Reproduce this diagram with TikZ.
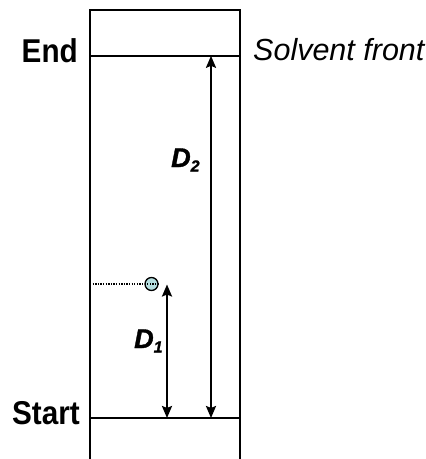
\documentclass[tikz,border=0pt]{standalone}
\usepackage{fontspec}
\setmainfont{Liberation Sans}
\newfontfamily\narrowsans{Liberation Sans}[FakeStretch=0.9]
\newfontface\heavyital{Liberation Sans Bold Italic}[FakeBold=1.3]
\usetikzlibrary{positioning,arrows.meta}
\definecolor{Ink}{HTML}{000000}
\definecolor{SpotFill}{HTML}{B5DEDF}
\newcommand{\Dsub}[1]{D\raisebox{-4.5pt}{\fontsize{16}{16}\selectfont #1}}

\begin{document}
\begin{tikzpicture}[
    x=1pt,
    y=-1pt,
    every node/.style={inner sep=0pt, text=Ink},
    plate/.style={draw=Ink, line width=1.4pt},
    dist/.style={{Stealth[length=12pt,width=10pt,inset=2pt]}-{Stealth[length=12pt,width=10pt,inset=2pt]}, draw=Ink, line width=2.2pt},
    sidelbl/.style={font=\narrowsans\fontsize{33}{38}\selectfont\bfseries},
    frontlbl/.style={font=\fontsize{30.5}{36}\selectfont\itshape},
    dlbl/.style={font=\heavyital\fontsize{27}{32}\selectfont},
    spot/.style={circle, draw=Ink, line width=1.3pt, fill=SpotFill, minimum size=13pt}
]
\useasboundingbox (0,0) rectangle (426,459);

% Plate outline (open at the bottom)
\draw[plate] (90,459) -- (90,10) -- (240,10) -- (240,459);

% Start and end lines
\coordinate (endL) at (90,55.8);
\coordinate (endR) at (240,55.8);
\coordinate (startL) at (90,418);
\coordinate (startR) at (240,418);
\draw[plate] (endL) -- (endR);
\draw[plate] (startL) -- (startR);

\node[sidelbl, anchor=base east] (lEnd) at (78,62) {End};
\node[sidelbl, anchor=base east] (lStart) at (80,424) {Start};
\node[frontlbl, anchor=base west] (lFront) at (253,60) {Solvent front};

% Spot
\node[spot] (spot) at (151.5,284) {};
\coordinate (spotL) at (90,284);
\draw[draw=Ink, line width=1.3pt, dash pattern=on 1.3pt off 1.3pt] (spotL) -- (spot.east);

% Distances
\coordinate (d1top) at (167,284.5);
\coordinate (d1bot) at (167,418);
\coordinate (d2top) at (211,55.8);
\coordinate (d2bot) at (211,418);
\draw[dist] (d1bot) -- (d1top);
\draw[dist] (d2bot) -- (d2top);

\node[dlbl, anchor=base west] (lD1) at (134,348) {\Dsub{1}};
\node[dlbl, anchor=base west] (lD2) at (171,167) {\Dsub{2}};

\end{tikzpicture}
\end{document}
